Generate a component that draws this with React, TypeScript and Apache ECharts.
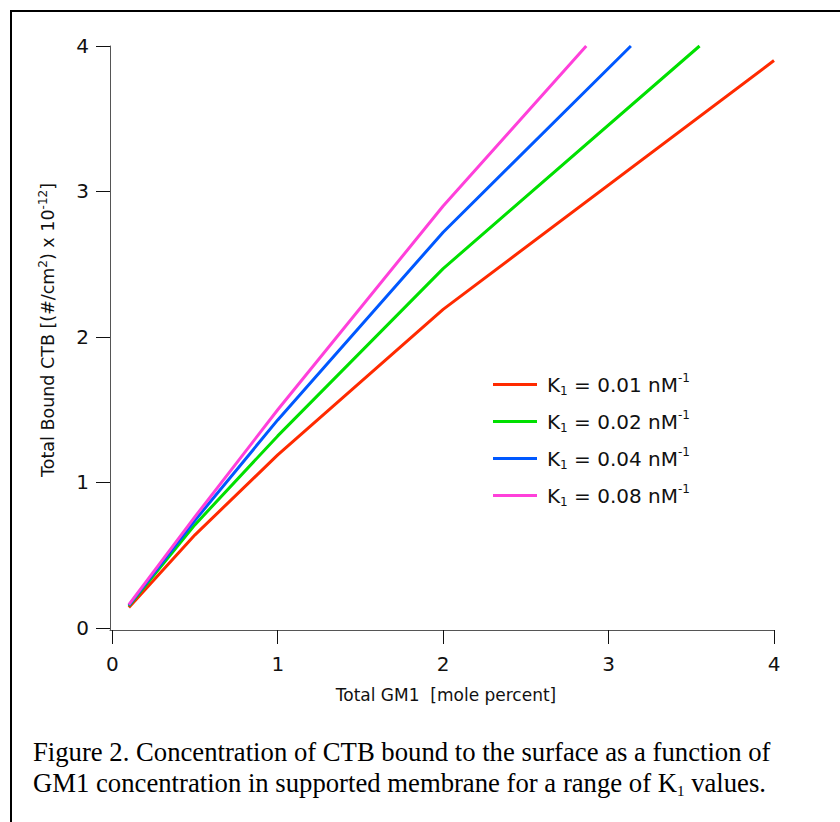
import React, { useEffect, useRef } from "react";
import * as echarts from "echarts";

const tickValues = [0, 1, 2, 3, 4];
const seriesNames = ["0.01", "0.02", "0.04", "0.08"];
const seriesColors = ["#ff2a00", "#00e000", "#0058ff", "#ff40da"];

const gm1K001 = [0.1, 0.5, 1, 2, 4];
const ctbK001 = [0.14, 0.64, 1.19, 2.19, 3.9];
const gm1K002 = [0.1, 0.5, 1, 2, 3.55];
const ctbK002 = [0.15, 0.71, 1.32, 2.47, 4.0];
const gm1K004 = [0.1, 0.5, 1, 2, 3.135];
const ctbK004 = [0.155, 0.74, 1.43, 2.72, 4.0];
const gm1K008 = [0.1, 0.5, 1, 2, 2.865];
const ctbK008 = [0.16, 0.765, 1.5, 2.9, 4.0];

const xs = [gm1K001, gm1K002, gm1K004, gm1K008];
const ys = [ctbK001, ctbK002, ctbK004, ctbK008];

const SANS = "DejaVu Sans";

export default function App() {
  const ref = useRef<HTMLDivElement>(null);
  useEffect(() => {
    if (!ref.current) return;
    const chart = echarts.init(ref.current, null, { renderer: "svg" });
    const series = seriesNames.map((n, i) => ({
      name: n,
      type: "line",
      data: xs[i].map((x, j) => [x, ys[i][j]]),
      showSymbol: false,
      symbol: "none",
      clip: true,
      color: seriesColors[i],
      lineStyle: { color: seriesColors[i], width: 3 },
    }));
    chart.setOption({
      animation: false,
      backgroundColor: "#ffffff",
      grid: { left: 110, right: 66, top: 46, bottom: 192, containLabel: false },
      xAxis: {
        type: "value",
        min: -0.014,
        max: 4,
        name: "Total GM1  [mole percent]",
        nameLocation: "middle",
        nameGap: 56,
        nameTextStyle: { fontFamily: SANS, fontSize: 17, color: "#111", padding: [0, 0, 0, 8] },
        axisLine: { show: true, onZero: false, lineStyle: { color: "#555", width: 1 } },
        axisTick: { show: true, customValues: tickValues, length: 14, lineStyle: { color: "#111", width: 1 } },
        axisLabel: { customValues: tickValues, margin: 24, fontFamily: SANS, fontSize: 20, color: "#111" },
        splitLine: { show: false },
      },
      yAxis: {
        type: "value",
        min: -0.014,
        max: 4,
        name: "Total Bound CTB [(#/cm{sup|2}) x 10{sup|-12}]",
        nameLocation: "middle",
        nameRotate: 90,
        nameGap: 51,
        nameTextStyle: {
          fontFamily: SANS,
          fontSize: 17.5,
          color: "#111",
          lineHeight: 22,
          padding: [0, 0, 0, 16],
          rich: {
            sup: { fontFamily: SANS, fontSize: 12, color: "#111", verticalAlign: "top" },
          },
        },
        axisLine: { show: true, onZero: false, lineStyle: { color: "#555", width: 1 } },
        axisTick: { show: true, customValues: tickValues, length: 14, lineStyle: { color: "#111", width: 1 } },
        axisLabel: { customValues: tickValues, margin: 21, fontFamily: SANS, fontSize: 20, color: "#111" },
        splitLine: { show: false },
      },
      legend: {
        show: true,
        orient: "vertical",
        left: 493,
        top: 372,
        padding: 0,
        itemWidth: 44,
        itemHeight: 3,
        itemGap: 12,
        icon: "rect",
        data: seriesNames.map((n, i) => ({ name: n, itemStyle: { color: seriesColors[i] } })),
        formatter: (name: string) => `K{sub|1} = ${name} nM{sup|-1}`,
        textStyle: {
          fontFamily: SANS,
          fontSize: 20,
          color: "#111",
          lineHeight: 25,
          padding: [0, 0, 0, 5],
          rich: {
            sub: { fontFamily: SANS, fontSize: 12, color: "#111", verticalAlign: "bottom" },
            sup: { fontFamily: SANS, fontSize: 12, color: "#111", verticalAlign: "top" },
          },
        },
      },
      graphic: [
        { type: "line", shape: { x1: 11, y1: 10, x2: 11, y2: 822 }, style: { stroke: "#000", lineWidth: 2 } },
        { type: "line", shape: { x1: 10, y1: 11, x2: 840, y2: 11 }, style: { stroke: "#000", lineWidth: 2 } },
        {
          type: "text",
          left: 33,
          top: 736,
          style: {
            text: "Figure 2. Concentration of CTB bound to the surface as a function of\nGM1 concentration in supported membrane for a range of K{sub|1} values.",
            font: "26.7px 'Liberation Serif'",
            fill: "#000",
            lineHeight: 31,
            rich: {
              sub: { font: "15px 'Liberation Serif'", fill: "#000", verticalAlign: "bottom" },
            },
          } as any,
        },
      ],
      series,
    });
    return () => chart.dispose();
  }, []);
  return (
    <div
      ref={ref}
      style={{ position: "fixed", left: 0, top: 0, width: 840, height: 822, background: "#fff" }}
    />
  );
}
